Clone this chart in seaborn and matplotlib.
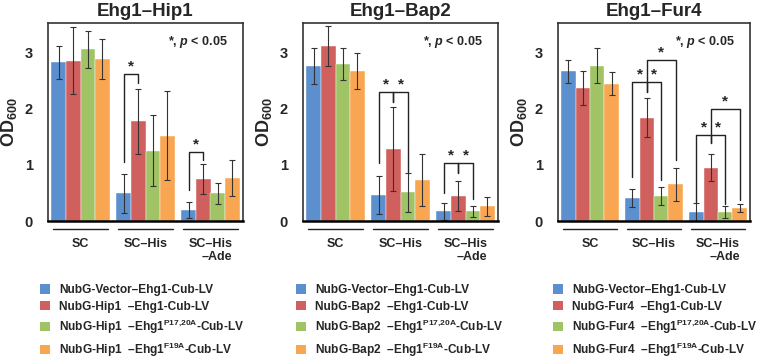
# OD600 growth assay, three split-ubiquitin pairs
import matplotlib
matplotlib.use("Agg")
import matplotlib.pyplot as plt
from matplotlib.patches import Patch
import pandas as pd
import seaborn as sns

conditions = ["SC", "SC–His", "SC–His\n–Ade"]
constructs = ["Vector", "WT", "P17,20A", "F19A"]
colors = ["#5B8FCE", "#D0605E", "#A0C366", "#F9A653"]

# means / errors, order: condition then construct
hip1_means = [2.82, 2.85, 3.05, 2.88, 0.49, 1.77, 1.25, 1.52, 0.20, 0.75, 0.49, 0.77]
hip1_errs = [0.30, 0.59, 0.33, 0.35, 0.35, 0.58, 0.63, 0.79, 0.14, 0.27, 0.18, 0.32]
bap2_means = [2.76, 3.11, 2.79, 2.67, 0.46, 1.28, 0.51, 0.73, 0.17, 0.45, 0.17, 0.26]
bap2_errs = [0.32, 0.35, 0.29, 0.32, 0.34, 0.75, 0.35, 0.47, 0.15, 0.27, 0.10, 0.17]
fur4_means = [2.66, 2.37, 2.76, 2.44, 0.41, 1.84, 0.44, 0.65, 0.16, 0.95, 0.16, 0.23]
fur4_errs = [0.20, 0.30, 0.31, 0.20, 0.16, 0.35, 0.16, 0.29, 0.16, 0.24, 0.11, 0.07]

# significance brackets: (condition, bar a, bar b, top, leg a end, leg b end)
hip1_brackets = [(1, 0, 1, 2.61, 1.05, 2.45), (2, 0, 1, 1.23, 0.55, 1.08)]
bap2_brackets = [(1, 0, 1, 2.29, 1.03, 2.12), (1, 1, 2, 2.29, 2.12, 0.87),
                 (2, 0, 1, 1.04, 0.49, 0.85), (2, 1, 2, 1.04, 0.85, 0.39)]
fur4_brackets = [(1, 0, 1, 2.47, 0.79, 2.30), (1, 1, 2, 2.47, 2.30, 0.73),
                 (1, 1, 3, 2.87, 2.47, 1.08), (2, 0, 1, 1.53, 0.34, 1.38),
                 (2, 1, 2, 1.53, 1.38, 0.31), (2, 1, 3, 2.00, 1.53, 0.37)]

panels = [
    ("Hip1", hip1_means, hip1_errs, hip1_brackets),
    ("Bap2", bap2_means, bap2_errs, bap2_brackets),
    ("Fur4", fur4_means, fur4_errs, fur4_brackets),
]

sns.set_theme(style="white")
plt.rcParams["font.family"] = ["Liberation Sans", "DejaVu Sans"]
plt.rcParams["font.weight"] = "bold"
plt.rcParams["mathtext.fontset"] = "custom"
plt.rcParams["mathtext.rm"] = "Liberation Sans:bold"
plt.rcParams["mathtext.bf"] = "Liberation Sans:bold"
plt.rcParams["mathtext.it"] = "Liberation Sans:italic:bold"

fig = plt.figure(figsize=(7.58, 3.58), dpi=100)
lefts = [48, 303, 558]
rights = [243, 498, 750]
legend_x = [40, 296, 553]

for k, (name, means, errs, brackets) in enumerate(panels):
    ax = fig.add_axes([lefts[k] / 758, 1 - 221 / 358,
                       (rights[k] - lefts[k]) / 758, 198 / 358])
    df = pd.DataFrame({
        "condition": [c for c in conditions for _ in constructs],
        "construct": constructs * len(conditions),
        "od": means,
    })
    sns.barplot(data=df, x="condition", y="od", hue="construct",
                order=conditions, hue_order=constructs, palette=colors,
                width=0.9, errorbar=None, saturation=1, edgecolor="white",
                linewidth=0.3, legend=False, ax=ax)
    bar_conts = list(ax.containers)

    # error bars on bar centres
    centers = {}
    for i, cont in enumerate(bar_conts):
        for g, patch in enumerate(cont):
            x = patch.get_x() + patch.get_width() / 2
            centers[(g, i)] = x
            ax.errorbar(x, patch.get_height(), yerr=errs[g * 4 + i],
                        color="#333333", lw=0.8, capsize=2.5, capthick=0.8)

    for g, a, b, top, ya, yb in brackets:
        xa, xb = centers[(g, a)], centers[(g, b)]
        ax.plot([xa, xa, xb, xb], [ya, top, top, yb], color="#222222", lw=1.0)
        ax.text((xa + xb) / 2, top + 0.13, "*", ha="center", va="center",
                fontsize=11, fontweight="bold")

    ax.set_xlim(-0.5, 2.5)
    ax.set_ylim(0, 3.52)
    ax.set_yticks([0, 1, 2, 3])
    ax.tick_params(axis="y", length=0, pad=11, labelsize=10.5)
    ax.tick_params(axis="x", length=0, pad=12, labelsize=9)
    for lab in ax.get_xticklabels():
        lab.set_multialignment("right")
        lab.set_fontweight("bold")
    for lab in ax.get_yticklabels():
        lab.set_fontweight("bold")
    ax.set_xlabel("")
    ax.set_ylabel(r"OD$_{600}$", fontsize=13, fontweight="bold", labelpad=4)
    ax.set_title(f"Ehg1–{name}", fontsize=13.5, fontweight="bold", pad=5)

    for sp in ax.spines.values():
        sp.set_color("#333333")
        sp.set_linewidth(1.2)
    ax.spines["bottom"].set_color("black")
    ax.spines["bottom"].set_linewidth(1.8)

    # underline each condition group
    tr = ax.get_xaxis_transform()
    for g in range(len(conditions)):
        ax.plot([g - 0.42, g + 0.42], [-0.04, -0.04], color="#222222", lw=1.0,
                transform=tr, clip_on=False)

    ax.text(0.92, 0.905, r"*, $\mathit{p}$ < 0.05", transform=ax.transAxes,
            ha="right", va="center", fontsize=9, fontweight="bold")

    labels = [
        "NubG-Vector–Ehg1-Cub-LV",
        f"NubG-{name}  –Ehg1-Cub-LV",
        f"NubG-{name}  –Ehg1" + r"$^{\mathbf{P17{,}20A}}$" + "-Cub-LV",
        f"NubG-{name}  –Ehg1" + r"$^{\mathbf{F19A}}$" + "-Cub-LV",
    ]
    handles = [Patch(facecolor=c, edgecolor="none") for c in colors]
    leg = ax.legend(handles, labels, loc="upper left",
                    bbox_to_anchor=(legend_x[k] / 758, 1 - 284 / 358),
                    bbox_transform=fig.transFigure, frameon=False,
                    fontsize=8.6, handlelength=0.85, handleheight=0.85,
                    handletextpad=0.75, labelspacing=0.4, borderpad=0,
                    borderaxespad=0)
    for t in leg.get_texts():
        t.set_fontweight("bold")

fig.savefig("out.png", dpi=100)
